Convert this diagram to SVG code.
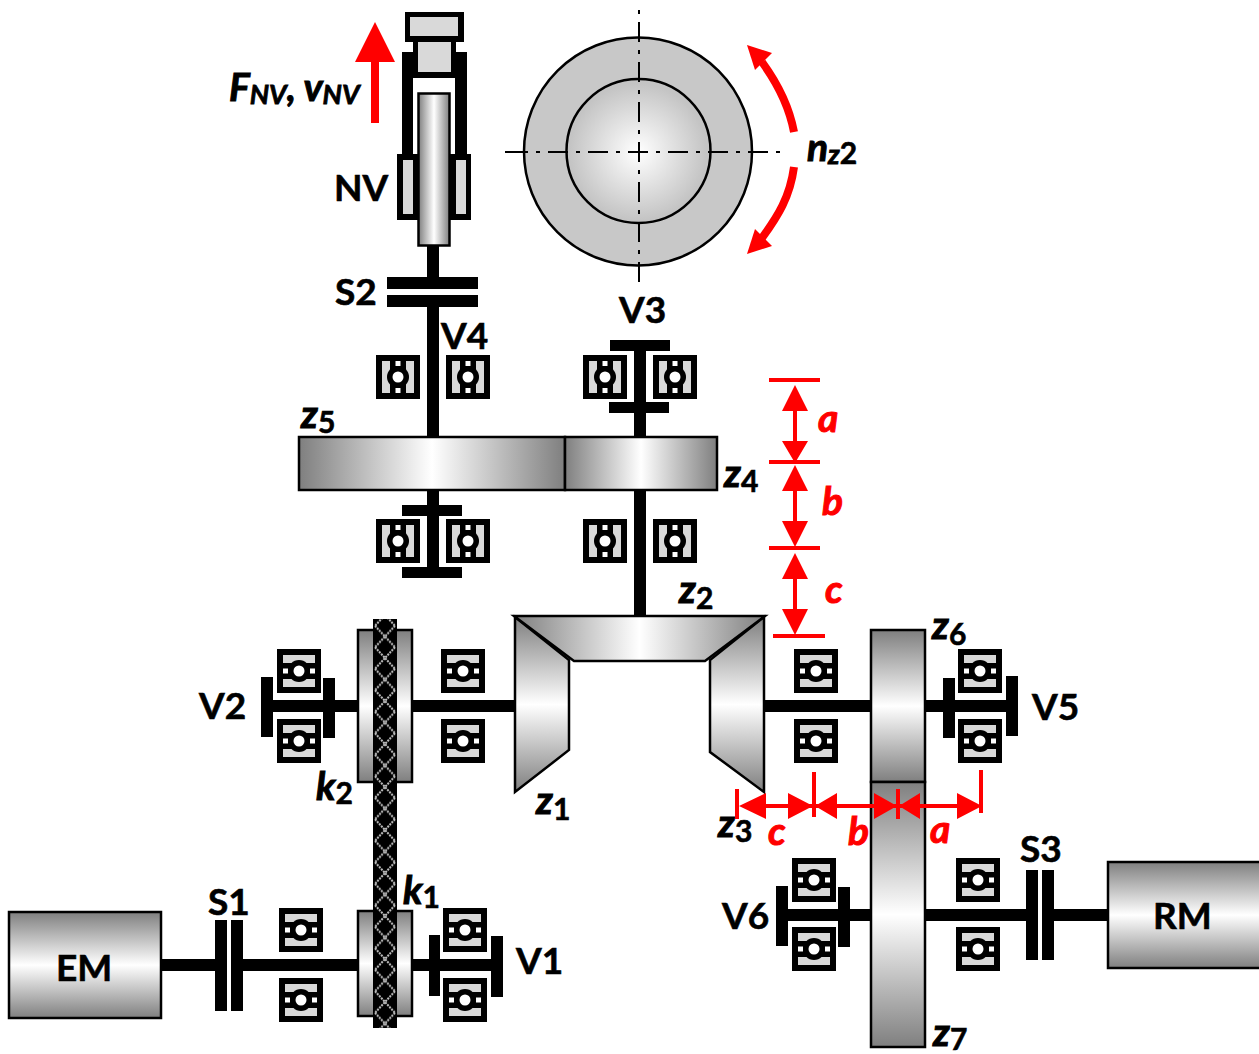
<svg xmlns="http://www.w3.org/2000/svg" xmlns:xlink="http://www.w3.org/1999/xlink" width="1259" height="1054" viewBox="0 0 1259 1054">
<style>
text{font-family:"Lato","Open Sans","Liberation Sans",sans-serif;font-weight:700;font-size:37px;fill:#000;stroke:#000;stroke-width:.6px}
.i{font-style:italic;font-size:39px;stroke-width:1px}
.r{fill:#f00;stroke:#f00}
.sub{font-size:30px;font-style:normal;stroke-width:.6px}
.subi{font-size:27px;font-style:italic;stroke-width:.8px}
.k{fill:#000}
.gv{fill:url(#gv);stroke:#000;stroke-width:2.5}
.gh{fill:url(#gh);stroke:#000;stroke-width:2.5}
.red{stroke:#f00;stroke-width:4;fill:none}
.rf{fill:#f00}
</style>
<defs>
<linearGradient id="gv" x1="0" y1="0" x2="0" y2="1"><stop offset="0" stop-color="#7f7f7f"/><stop offset=".5" stop-color="#fff"/><stop offset="1" stop-color="#7f7f7f"/></linearGradient>
<linearGradient id="gh" x1="0" y1="0" x2="1" y2="0"><stop offset="0" stop-color="#7f7f7f"/><stop offset=".5" stop-color="#fff"/><stop offset="1" stop-color="#7f7f7f"/></linearGradient>
<radialGradient id="rg" gradientUnits="userSpaceOnUse" cx="638" cy="152" r="114"><stop offset="0" stop-color="#fff"/><stop offset=".6" stop-color="#c4c4c4"/><stop offset="1" stop-color="#c4c4c4"/></radialGradient>
<pattern id="chain" width="24" height="21.500" patternUnits="userSpaceOnUse" x="373" y="776.250">
<rect width="24" height="21.500" fill="#000"/>
<path d="M2 0L22 21.500M22 0L2 21.500" stroke="#c0c0c0" stroke-width="2" stroke-dasharray="2 1" fill="none"/>
</pattern>
<g id="brg">
<rect x="-22" y="-22" width="44" height="44" fill="#000"/>
<rect x="-16" y="-16" width="32" height="8" fill="#d9d9d9"/>
<rect x="-16" y="8" width="32" height="8" fill="#d9d9d9"/>
<circle r="11" fill="#000"/>
<circle r="5.500" fill="#fff"/>
<rect x="-16" y="-2.500" width="5" height="5" fill="#fff"/>
<rect x="11" y="-2.500" width="5" height="5" fill="#fff"/>
</g>
<g id="brr"><use href="#brg" transform="rotate(90)"/></g>
</defs>
<rect width="1259" height="1054" fill="#fff"/>

<g id="connectors">
<g class="k">
<rect x="427" y="246" width="12" height="32"/><rect x="427" y="305" width="12" height="132"/><rect x="427" y="490" width="12" height="83"/>
<rect x="634" y="345" width="12" height="92"/><rect x="634" y="490" width="12" height="127"/>
<rect x="262" y="700" width="96" height="12"/><rect x="412" y="700" width="104" height="12"/>
<rect x="764" y="700" width="107" height="12"/><rect x="925" y="700" width="90" height="12"/>
<rect x="161" y="959" width="55" height="12"/><rect x="243" y="959" width="115" height="12"/><rect x="412" y="959" width="88" height="12"/>
<rect x="778" y="909" width="93" height="12"/><rect x="925" y="909" width="101" height="12"/><rect x="1054" y="909" width="54" height="12"/>
</g>
</g>

<g id="NV">
<rect x="402" y="52" width="11" height="103" class="k"/><rect x="455" y="52" width="12" height="103" class="k"/>
<rect x="413" y="40" width="43" height="38" class="k"/>
<rect x="418" y="42" width="33" height="30" fill="#d9d9d9"/>
<rect x="405" y="12" width="59" height="30" class="k"/>
<rect x="410" y="17" width="48" height="19" fill="#d9d9d9"/>
<rect x="397" y="154" width="74" height="66" class="k"/>
<rect x="403" y="160" width="10" height="54" fill="#d9d9d9"/><rect x="456" y="160" width="10" height="54" fill="#d9d9d9"/>
<rect x="418.500" y="93.500" width="31" height="152" class="gh"/>
<text x="334" y="201">NV</text>
</g>
<g id="force">
<rect x="371" y="60" width="8" height="63" class="rf"/><path d="M375 22L395 62H355Z" class="rf"/>
<text x="229" y="101" class="i">F<tspan class="subi" dy="3">NV</tspan><tspan dy="-3">, v</tspan><tspan class="subi" dy="3">NV</tspan></text>
</g>
<g id="S2" class="k"><rect x="387" y="277" width="91" height="12"/><rect x="387" y="295" width="91" height="12"/><text x="335" y="305">S2</text></g>

<g id="disc">
<circle cx="638" cy="151.500" r="114" fill="#c8c8c8" stroke="#000" stroke-width="2.500"/>
<circle cx="638.500" cy="151" r="72" fill="url(#rg)" stroke="#000" stroke-width="2.500"/>
<path d="M505 152H508M508 152H780" stroke="#000" stroke-width="2" stroke-dasharray="20 8 4 8" fill="none"/>
<path d="M505 152H509" stroke="#000" stroke-width="2" fill="none"/>
<path d="M639 10V283" stroke="#000" stroke-width="2" stroke-dasharray="4 8 20 8" fill="none"/>
</g>
<g id="rotation">
<path d="M794 132C789 105 778 84 762 62" stroke="#f00" stroke-width="8" fill="none"/><path d="M747 45L772 53L755 70Z" class="rf"/>
<path d="M794 167C790 197 778 216 762 238" stroke="#f00" stroke-width="8" fill="none"/><path d="M747 254L755 229L772 246Z" class="rf"/>
<text x="807" y="161" class="i">n<tspan class="subi" dy="3">z</tspan><tspan class="sub" font-size="28">2</tspan></text>
</g>

<g id="V4">
<use href="#brr" x="398" y="377"/><use href="#brr" x="468" y="377"/>
<text x="441" y="349">V4</text>
</g>
<g id="V3">
<rect x="610" y="340" width="60" height="11" class="k"/><rect x="609" y="402" width="60" height="11" class="k"/>
<use href="#brr" x="605" y="377"/><use href="#brr" x="675" y="377"/>
<text x="619" y="323">V3</text>
</g>
<g id="z5"><rect x="299" y="437" width="266" height="53" class="gh"/><text x="301" y="428" class="i">z<tspan class="sub" dy="5">5</tspan></text></g>
<g id="z4"><rect x="565" y="437" width="152" height="53" class="gh"/><text x="724" y="487" class="i">z<tspan class="sub" dy="5">4</tspan></text></g>
<g id="lowerbearings1">
<rect x="402" y="505" width="60" height="11" class="k"/><rect x="402" y="567" width="60" height="11" class="k"/>
<use href="#brr" x="398" y="541"/><use href="#brr" x="468" y="541"/>
</g>
<g id="lowerbearings2"><use href="#brr" x="605" y="541"/><use href="#brr" x="675" y="541"/></g>

<g id="z1"><path d="M515 617L569 660V750L515 792Z" class="gv"/><text x="536" y="814" class="i">z<tspan class="sub" dy="6">1</tspan></text></g>
<g id="z3"><path d="M764 617L710 660V752L764 792Z" class="gv"/><text x="718" y="837" class="i">z<tspan class="sub" dy="5">3</tspan></text></g>
<g id="z2"><path d="M514 616H765L705 661H574Z" class="gh"/><text x="679" y="603" class="i">z<tspan class="sub" dy="6">2</tspan></text></g>

<g id="V2">
<rect x="261" y="677" width="12" height="60" class="k"/><rect x="323" y="678" width="12" height="60" class="k"/>
<use href="#brg" x="299" y="671"/><use href="#brg" x="299" y="741"/>
<text x="199" y="719">V2</text>
</g>
<g id="bearings-k2"><use href="#brg" x="463" y="671"/><use href="#brg" x="463" y="741"/></g>
<g id="k2"><rect x="358" y="630" width="54" height="152" class="gv"/><text x="316" y="800" class="i">k<tspan class="sub" dy="4">2</tspan></text></g>
<g id="k1"><rect x="358" y="911" width="54" height="105" class="gv"/><text x="403" y="904" class="i">k<tspan class="sub" dy="4">1</tspan></text></g>
<g id="chain-belt"><rect x="373" y="619" width="24" height="409" fill="url(#chain)"/></g>
<g id="V1">
<rect x="429" y="935" width="11" height="61" class="k"/><rect x="491" y="936" width="12" height="61" class="k"/>
<use href="#brg" x="465" y="930"/><use href="#brg" x="465" y="1000"/>
<text x="516" y="974">V1</text>
</g>
<g id="bearings-s1"><use href="#brg" x="301" y="930"/><use href="#brg" x="301" y="1000"/></g>
<g id="S1" class="k"><rect x="215" y="920" width="12" height="91"/><rect x="231" y="920" width="12" height="91"/><text x="208" y="915">S1</text></g>
<g id="EM"><rect x="9" y="912" width="152" height="106" class="gv"/><text x="56" y="981">EM</text></g>

<g id="z6"><rect x="871" y="630" width="54" height="152" class="gv"/><text x="932" y="639" class="i">z<tspan class="sub" dy="6">6</tspan></text></g>
<g id="z7"><rect x="871" y="782" width="54" height="265" class="gv"/><text x="933" y="1046" class="i">z<tspan class="sub" dy="4">7</tspan></text></g>
<g id="bearings-z6"><use href="#brg" x="816" y="671"/><use href="#brg" x="816" y="741"/></g>
<g id="V5">
<rect x="943" y="678" width="12" height="60" class="k"/><rect x="1006" y="676" width="12" height="60" class="k"/>
<use href="#brg" x="980" y="671"/><use href="#brg" x="980" y="741"/>
<text x="1032" y="720">V5</text>
</g>
<g id="V6">
<rect x="776" y="886" width="12" height="60" class="k"/><rect x="838" y="887" width="12" height="60" class="k"/>
<use href="#brg" x="814" y="880"/><use href="#brg" x="814" y="949"/>
<text x="722" y="929">V6</text>
</g>
<g id="bearings-z7"><use href="#brg" x="978" y="880"/><use href="#brg" x="978" y="949"/></g>
<g id="S3" class="k"><rect x="1026" y="870" width="12" height="90"/><rect x="1042" y="870" width="12" height="90"/><text x="1020" y="862">S3</text></g>
<g id="RM"><rect x="1108" y="862" width="153" height="106" class="gv"/><text x="1153" y="929">RM</text></g>

<g id="dim-vertical">
<path d="M769 380H820M769 462H820M769 548H820M773 636H825M795 400V445M795 485V530M795 570V620" class="red"/>
<path d="M795 385L808 411H782ZM795 463L808 441H782ZM795 465L808 491H782ZM795 547L808 521H782ZM795 553L808 579H782ZM795 635L808 609H782Z" class="rf"/>
<text x="818" y="432" class="i r">a</text><text x="822" y="515" class="i r">b</text><text x="825" y="603" class="i r">c</text>
</g>
<g id="dim-horizontal">
<path d="M737 789V819M814 772V817M898 789V819M981 770V813M745 806H975" class="red"/>
<path d="M739 806L766 793V819ZM813 806L788 793V819ZM815 806L837 793V819ZM897 806L874 793V819ZM899 806L920 793V819ZM982 806L957 793V819Z" class="rf"/>
<text x="768" y="845" class="i r">c</text><text x="848" y="845" class="i r">b</text><text x="930" y="843" class="i r">a</text>
</g>
</svg>
